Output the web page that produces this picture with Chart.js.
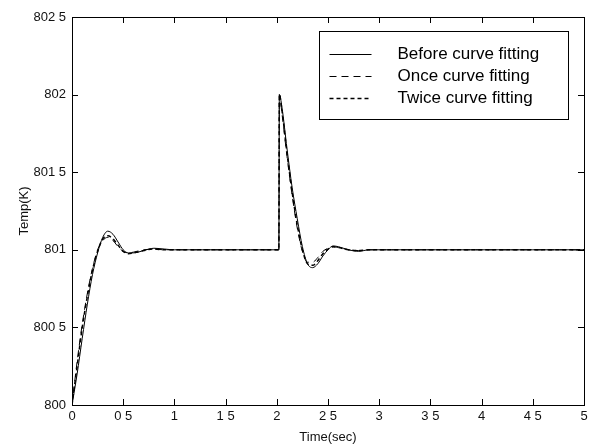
<!DOCTYPE html>
<html>
<head>
<meta charset="utf-8">
<script src="https://cdn.jsdelivr.net/npm/chart.js@4.4.1/dist/chart.umd.min.js"></script>
<style>
html,body{margin:0;padding:0;background:#fff;}
#wrap{width:595px;height:447px;}
</style>
</head>
<body>
<div id="wrap"><canvas id="c" width="595" height="447"></canvas></div>
<script>
// ---- data ----
const times = [0, 0.05, 0.1, 0.15, 0.2, 0.25, 0.3, 0.35, 0.4, 0.45, 0.5, 0.55, 0.6, 0.7, 0.8, 0.9, 1.0, 1.2, 1.5, 2.0, 2.02, 2.025, 2.05, 2.1, 2.15, 2.2, 2.25, 2.3, 2.35, 2.4, 2.45, 2.5, 2.55, 2.6, 2.7, 2.8, 2.9, 3.0, 3.5, 4.0, 4.5, 5.0];
const beforeFit = [800.00, 800.20, 800.43, 800.65, 800.84, 800.98, 801.08, 801.12, 801.10, 801.05, 801.00, 800.98, 800.98, 800.995, 801.01, 801.005, 801.0, 801.0, 801.0, 801.0, 801.0, 802.0, 801.92, 801.65, 801.40, 801.20, 801.02, 800.91, 800.885, 800.91, 800.96, 801.00, 801.025, 801.02, 801.00, 800.99, 801.0, 801.0, 801.0, 801.0, 801.0, 801.0];
const onceFit = [800.00, 800.28, 800.52, 800.72, 800.88, 801.00, 801.06, 801.08, 801.06, 801.02, 800.99, 800.98, 800.985, 801.0, 801.005, 801.0, 801.0, 801.0, 801.0, 801.0, 801.0, 802.0, 801.88, 801.60, 801.35, 801.14, 800.99, 800.92, 800.92, 800.95, 800.99, 801.01, 801.02, 801.015, 801.0, 800.995, 801.0, 801.0, 801.0, 801.0, 801.0, 801.0];
const twiceFit = [800.00, 800.25, 800.50, 800.70, 800.87, 800.99, 801.07, 801.09, 801.07, 801.03, 800.99, 800.975, 800.98, 800.995, 801.005, 801.0, 801.0, 801.0, 801.0, 801.0, 801.0, 802.0, 801.90, 801.62, 801.37, 801.16, 801.00, 800.91, 800.90, 800.93, 800.975, 801.005, 801.02, 801.015, 801.0, 800.995, 801.0, 801.0, 801.0, 801.0, 801.0, 801.0];
const seriesLabels = ["Before curve fitting", "Once curve fitting", "Twice curve fitting"];
const xTickValues = [0, 0.5, 1, 1.5, 2, 2.5, 3, 3.5, 4, 4.5, 5];
const xTickLabels = ["0", "0 5", "1", "1 5", "2", "2 5", "3", "3 5", "4", "4 5", "5"];
const yTickValues = [800, 800.5, 801, 801.5, 802, 802.5];
const yTickLabels = ["800", "800 5", "801", "801 5", "802", "802 5"];
const xTitle = "Time(sec)";
const yTitle = "Temp(K)";

const FONT = "'Liberation Sans', Arial, Helvetica, sans-serif";

function pts(vals){ return times.map((t,i)=>({x:t,y:vals[i]})); }

const frame = {
  id: 'frame',
  afterDatasetsDraw(chart){
    const {ctx, chartArea:a, scales} = chart;
    ctx.save();
    ctx.strokeStyle = '#000';
    ctx.lineWidth = 1;
    ctx.setLineDash([]);
    ctx.strokeRect(Math.round(a.left)+0.5, Math.round(a.top)+0.5, Math.round(a.right-a.left), Math.round(a.bottom-a.top));
    const tl = 6;
    ctx.beginPath();
    xTickValues.forEach(v=>{
      const px = Math.round(scales.x.getPixelForValue(v))+0.5;
      ctx.moveTo(px, a.bottom); ctx.lineTo(px, a.bottom-tl);
      ctx.moveTo(px, a.top); ctx.lineTo(px, a.top+tl);
    });
    yTickValues.forEach(v=>{
      const py = Math.round(scales.y.getPixelForValue(v))+0.5;
      ctx.moveTo(a.left, py); ctx.lineTo(a.left+tl, py);
      ctx.moveTo(a.right, py); ctx.lineTo(a.right-tl, py);
    });
    ctx.stroke();

    // legend box inside the plot
    const bw = 249, bh = 88;
    const bx = Math.round(a.right - 16 - bw)+0.5, by = Math.round(a.top + 14)+0.5;
    ctx.fillStyle = '#fff';
    ctx.fillRect(bx, by, bw, bh);
    ctx.strokeRect(bx, by, bw, bh);
    const rows = [22, 44, 66];
    ctx.font = "17px " + FONT;
    ctx.textBaseline = 'middle';
    ctx.textAlign = 'left';
    chart.data.datasets.forEach((ds, i)=>{
      const y = Math.round(by + rows[i]) + 0.5;
      ctx.beginPath();
      ctx.setLineDash(ds.borderDash || []);
      ctx.lineWidth = ds.borderWidth;
      ctx.moveTo(bx+10, y); ctx.lineTo(bx+52, y);
      ctx.stroke();
      ctx.setLineDash([]);
      ctx.fillStyle = '#000';
      ctx.fillText(ds.label, bx+78, y);
    });
    ctx.restore();
  }
};

new Chart(document.getElementById('c'), {
  type: 'line',
  data: {
    datasets: [
      {label: seriesLabels[0], data: pts(beforeFit), borderColor:'#000', borderWidth:1, pointRadius:0, cubicInterpolationMode:'monotone', fill:false},
      {label: seriesLabels[1], data: pts(onceFit), borderColor:'#000', borderWidth:1, borderDash:[7,5], pointRadius:0, cubicInterpolationMode:'monotone', fill:false},
      {label: seriesLabels[2], data: pts(twiceFit), borderColor:'#000', borderWidth:1.5, borderDash:[4,3], pointRadius:0, cubicInterpolationMode:'monotone', fill:false}
    ]
  },
  options: {
    responsive: false,
    animation: false,
    events: [],
    layout: {padding: {left: 0, top: 17, right: 11, bottom: 0}},
    plugins: {legend: {display: false}, tooltip: {enabled: false}},
    scales: {
      x: {
        type: 'linear', min: 0, max: 5,
        afterBuildTicks(s){ s.ticks = xTickValues.map(v=>({value:v})); },
        afterFit(s){ s.height = 42; },
        grid: {display: false, drawTicks: false},
        border: {display: false},
        ticks: {
          autoSkip: false, maxRotation: 0, padding: 4, color: '#111',
          font: {family: FONT, size: 13},
          callback(v){ const i = xTickValues.indexOf(v); return i >= 0 ? xTickLabels[i] : ''; }
        },
        title: {display: true, text: xTitle, color: '#111', font: {family: FONT, size: 13}, padding: {top: 0, bottom: 2}}
      },
      y: {
        type: 'linear', min: 800, max: 802.5,
        afterBuildTicks(s){ s.ticks = yTickValues.map(v=>({value:v})); },
        afterFit(s){ s.width = 72; },
        grid: {display: false, drawTicks: false},
        border: {display: false},
        ticks: {
          autoSkip: false, padding: 6, color: '#111',
          font: {family: FONT, size: 13},
          callback(v){ const i = yTickValues.indexOf(v); return i >= 0 ? yTickLabels[i] : ''; }
        },
        title: {display: true, text: yTitle, color: '#111', font: {family: FONT, size: 13}, padding: {top: 17, bottom: 0}}
      }
    }
  },
  plugins: [frame]
});
</script>
</body>
</html>
